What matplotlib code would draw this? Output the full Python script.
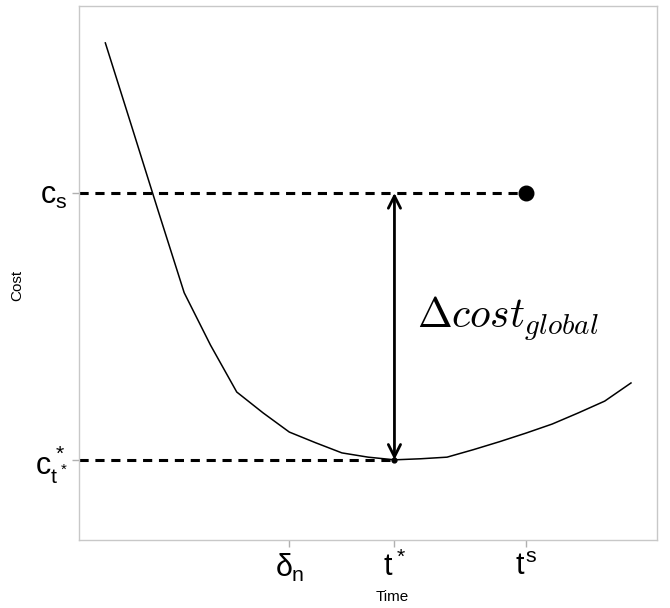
import matplotlib
matplotlib.use("Agg")
import matplotlib.pyplot as plt

plt.rcParams['mathtext.fontset'] = 'custom'
plt.rcParams['mathtext.rm'] = 'Liberation Sans'
plt.rcParams['mathtext.it'] = 'Liberation Sans'
plt.rcParams['mathtext.bf'] = 'Liberation Sans:bold'
plt.rcParams['font.family'] = 'Liberation Sans'

# cost curve over time
time = list(range(1, 22))
cost = [93.1, 77.5, 61.8, 46.3, 36.5, 27.7, 23.8, 20.2, 18.2, 16.3, 15.5,
        15.0, 15.2, 15.5, 16.9, 18.4, 20.0, 21.7, 23.8, 26.0, 29.4]

t_star = 12
t_s = 17
c_star = 15.0
c_s = 65.0
delta_n = 8

x_ticks = [delta_n, t_star, t_s]
x_labels = [r"$\delta_n$", r"$t^*$", r"$t^s$"]
y_ticks = [c_star, c_s]
y_labels = [r"$c^*_{t^*}$", r"$c_s$"]

fig = plt.figure(figsize=(6.7, 6.08), dpi=100)
ax = fig.add_axes([0.118, 0.112, 0.863, 0.878])

ax.plot(time, cost, color="black", lw=1.1)

# dashed reference lines
ax.plot([0, t_s], [c_s, c_s], color="black", lw=2.2, ls=(0, (3, 2.2)))
ax.plot([0, t_star], [c_star, c_star], color="black", lw=2.2, ls=(0, (3, 2.2)))

ax.scatter([t_s], [c_s], s=110, color="black", zorder=5)
ax.scatter([t_star], [c_star], s=12, color="black", zorder=5)

ax.annotate("", xy=(t_star, c_star), xytext=(t_star, c_s),
            arrowprops=dict(arrowstyle="<->", lw=2, color="black",
                            mutation_scale=22, shrinkA=0, shrinkB=0))

ax.text(t_star + 0.85, 41.5, r"$\Delta cost_{global}$", fontsize=30,
        math_fontfamily="cm", va="center", ha="left")

ax.set_xlim(0, 22)
ax.set_ylim(0, 100)
ax.set_xticks(x_ticks)
ax.set_xticklabels(x_labels, fontsize=22)
ax.set_yticks(y_ticks)
ax.set_yticklabels(y_labels, fontsize=22)
ax.tick_params(color="#b0b0b0", length=5, width=1)
for s in ax.spines.values():
    s.set_color("#c8c8c8")
    s.set_linewidth(1)

ax.set_xlabel("Time", fontsize=11)
ax.set_ylabel("Cost", fontsize=11)
ax.xaxis.set_label_coords(0.542, -0.093)
ax.yaxis.set_label_coords(-0.095, 0.477)

fig.savefig("out.png", dpi=100)
